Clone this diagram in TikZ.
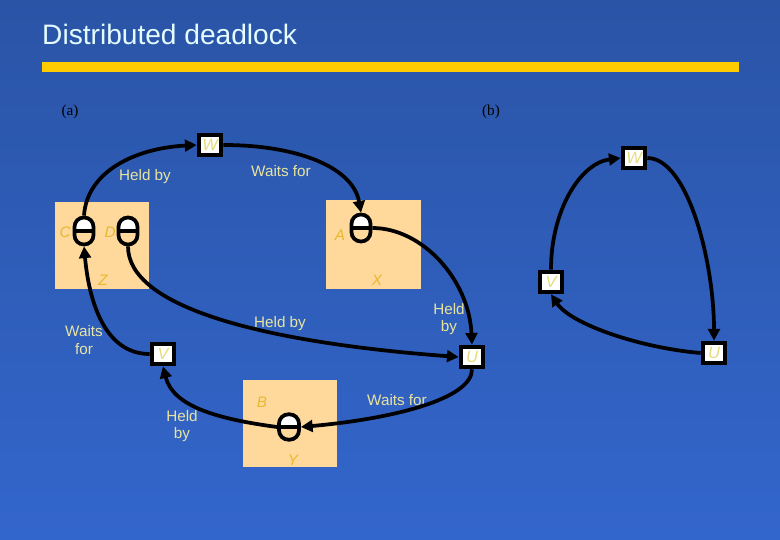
\documentclass[tikz,border=0pt]{standalone}
\usepackage{fontspec}
\setmainfont{Liberation Sans}
\newfontfamily\serifab{Liberation Serif}
\usetikzlibrary{arrows.meta}
\definecolor{bgtop}{HTML}{2A54A6}
\definecolor{bgbottom}{HTML}{3366CC}
\definecolor{peach}{HTML}{FFD99B}
\definecolor{baryellow}{HTML}{FFCC00}
\definecolor{labeltext}{HTML}{E8E4A0}
\definecolor{sitetext}{HTML}{E8B830}
\definecolor{proctext}{HTML}{E6DC7A}
\definecolor{titletext}{HTML}{E4FCFF}

\begin{document}
\begin{tikzpicture}[
  x=0.03cm, y=-0.03cm,
  res/.style={draw, line width=3.2pt, fill=peach, rounded corners=0.28cm, minimum width=0.57cm, minimum height=0.81cm, inner sep=0pt,
    path picture={\fill[white, sharp corners] (path picture bounding box.north west) rectangle (path picture bounding box.east);
                  \draw[line width=2.6pt, sharp corners] (path picture bounding box.west) -- (path picture bounding box.east);}},
  proc/.style={draw, line width=3.4pt, fill=white, minimum width=0.68cm, minimum height=0.62cm, inner sep=0pt, font=\itshape\fontsize{14}{14}\selectfont, text=proctext},
  sitelabel/.style={font=\itshape\fontsize{13}{13}\selectfont, text=sitetext},
  edgelabel/.style={font=\fontsize{13}{15}\selectfont, text=labeltext, align=center},
  arrow/.style={-{Triangle[length=10pt, width=10pt]}, line width=3.2pt}
]
  % background, title and bar
  \shade[top color=bgtop, bottom color=bgbottom] (0,0) rectangle (780,540);
  \useasboundingbox (0,0) rectangle (780,540);
  \node[font=\fontsize{24}{24}\selectfont, text=titletext, anchor=base west, inner sep=0pt] (title) at (42,45) {Distributed deadlock};
  \fill[baryellow] (42,62) rectangle (739,72);
  \node[font=\serifab\fontsize{13}{13}\selectfont] (parta) at (70,112) {(a)};
  \node[font=\serifab\fontsize{13}{13}\selectfont] (partb) at (491,112) {(b)};

  % sites
  \fill[peach] (55,202) rectangle (149,289);
  \fill[peach] (326,200) rectangle (421,289);
  \fill[peach] (243,380) rectangle (337,467);

  \node[sitelabel] (lc) at (65,232) {C};
  \node[sitelabel] (ld) at (110,232) {D};
  \node[sitelabel] (lz) at (103,280) {Z};
  \node[sitelabel] (la) at (340,235) {A};
  \node[sitelabel] (lx) at (377,280) {X};
  \node[sitelabel] (lb) at (262,402) {B};
  \node[sitelabel] (ly) at (293,460) {Y};

  % edge labels
  \node[edgelabel] (hc) at (145,177) {Held by};
  \node[edgelabel] (wa) at (281,171) {Waits for};
  \node[edgelabel] (ha) at (449,319) {Held\\by};
  \node[edgelabel] (wu) at (397,400) {Waits for};
  \node[edgelabel] (hb) at (182,426) {Held\\by};
  \node[edgelabel] (wv) at (84,340) {Waits\\for};
  \node[edgelabel] (hd) at (280,324) {Held by};

  % resources
  \node[res] (C) at (84,231) {};
  \node[res] (D) at (128,231) {};
  \node[res] (A) at (361,228) {};
  \node[res, minimum width=0.6cm, minimum height=0.76cm] (B) at (289,427) {};

  % processes
  \node[proc] (Wa) at (210,145) {W};
  \node[proc] (Va) at (163,354) {V};
  \node[proc] (Ua) at (472,357) {U};
  \node[proc] (Wb) at (634,158) {W};
  \node[proc] (Vb) at (551,282) {V};
  \node[proc] (Ub) at (714,353) {U};

  % (a)
  \draw[arrow] (C.north) .. controls +(3,-45) and +(-60,3) .. (Wa.west);
  \draw[arrow] (Wa.east) .. controls +(75,0) and +(-8,-45) .. (A.north);
  \draw[arrow] (A.east) .. controls +(50,0) and +(-3,-65) .. (Ua.north);
  \draw[arrow] (Ua.south) .. controls +(0,30) and +(90,-8) .. (B.east);
  \draw[arrow] (B.west) .. controls +(-60,-8) and +(10,40) .. (Va.south);
  \draw[arrow] (Va.west) .. controls +(-45,0) and +(5,55) .. (C.south);
  \draw[arrow] (D.south) .. controls +(0,60) and +(-200,-15) .. (Ua.west);

  % (b)
  \draw[arrow] (Vb.north) .. controls +(0,-60) and +(-40,5) .. (Wb.west);
  \draw[arrow] (Wb.east) .. controls +(40,0) and +(0,-80) .. (Ub.north);
  \draw[arrow] (Ub.west) .. controls +(-60,-5) and +(20,30) .. (Vb.south);
\end{tikzpicture}
\end{document}
